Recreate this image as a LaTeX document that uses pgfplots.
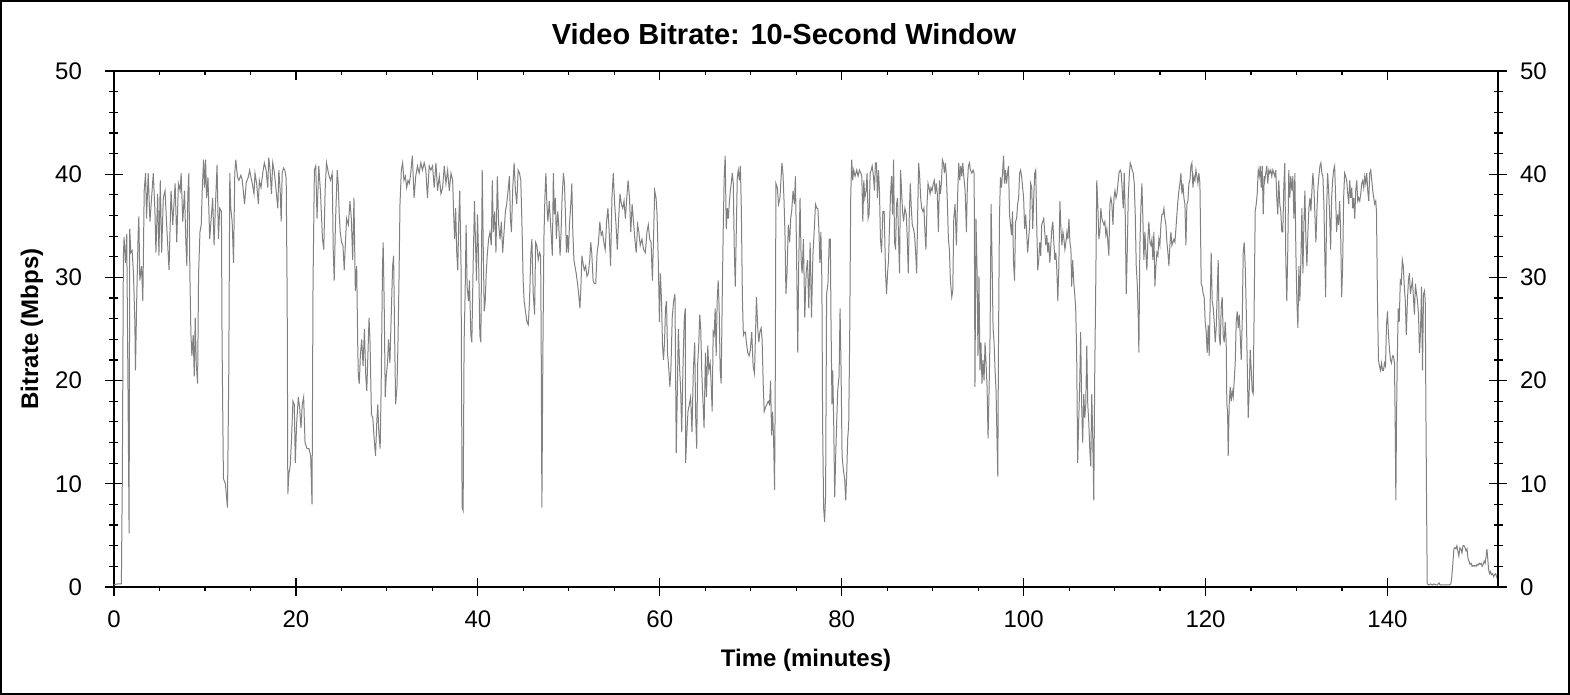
\documentclass[border=0pt]{standalone}
\usepackage{fontspec}
\setmainfont{Liberation Sans}
\usepackage{pgfplots}
\usepackage{pgfplotstable}
\pgfplotsset{compat=1.18}
\definecolor{linegray}{RGB}{128,128,128}
\pgfplotstableread{
t v
0.00 0.2
0.40 0.3
0.81 0.3
0.92 11.0
1.03 32.1
1.11 33.9
1.25 31.4
1.40 34.2
1.55 18.0
1.66 5.2
1.73 34.7
1.85 32.4
1.99 32.6
2.14 30.4
2.29 25.7
2.36 21.0
2.51 28.4
2.66 34.4
2.73 35.9
2.84 29.7
3.03 31.1
3.17 27.7
3.32 38.4
3.47 40.1
3.58 35.7
3.76 40.1
3.95 35.4
4.13 37.7
4.32 40.1
4.50 36.4
4.61 32.4
4.80 38.1
4.94 32.1
5.09 39.4
5.24 32.4
5.42 37.7
5.61 38.4
5.79 35.1
6.05 30.7
6.27 38.4
6.46 35.1
6.72 39.1
6.90 33.4
7.08 39.1
7.27 38.4
7.38 40.1
7.56 35.4
7.75 38.4
7.90 33.4
8.01 31.1
8.12 38.1
8.23 40.1
8.34 30.4
8.45 24.7
8.56 22.4
8.71 24.4
8.82 20.4
8.93 26.1
9.04 21.7
9.19 19.7
9.30 30.4
9.45 34.4
9.59 35.1
9.70 38.4
9.85 41.4
9.96 38.7
10.07 41.4
10.18 37.7
10.33 39.7
10.52 33.7
10.66 35.4
10.85 37.7
11.00 33.1
11.14 36.7
11.33 40.9
11.48 33.7
11.62 36.7
11.81 36.4
11.88 23.7
12.03 10.5
12.25 10.0
12.47 7.7
12.62 21.0
12.73 40.1
12.84 36.7
12.99 35.4
13.14 31.4
13.28 40.1
13.39 41.4
13.58 39.7
13.73 39.4
13.95 39.9
14.10 39.4
14.35 37.1
14.54 39.2
14.76 39.7
14.91 40.4
15.06 39.7
15.20 39.1
15.39 38.1
15.50 40.1
15.68 39.1
15.87 37.1
15.98 39.4
16.16 38.7
16.35 40.1
16.53 41.1
16.72 40.4
16.90 38.7
17.01 41.6
17.16 40.4
17.31 38.1
17.45 41.1
17.64 40.1
17.75 39.1
17.90 37.7
18.01 36.7
18.12 40.4
18.27 38.4
18.38 35.4
18.49 40.1
18.63 40.6
18.78 40.4
18.93 39.6
19.04 27.7
19.11 9.0
19.23 11.0
19.37 11.7
19.52 14.4
19.67 18.0
19.82 17.7
19.93 12.0
20.07 15.7
20.26 18.4
20.41 17.4
20.55 15.4
20.70 17.7
20.85 18.4
21.00 14.0
21.22 13.4
21.44 13.4
21.62 12.7
21.77 8.0
21.88 29.4
22.03 40.4
22.18 40.8
22.32 35.7
22.51 40.8
22.69 38.4
22.92 33.7
23.06 32.7
23.21 38.4
23.36 41.1
23.51 40.4
23.65 39.8
23.80 39.4
23.99 40.1
24.10 32.7
24.21 29.7
24.35 35.4
24.54 40.4
24.65 39.1
24.76 36.1
24.87 34.4
25.02 33.4
25.17 33.1
25.31 30.7
25.46 33.7
25.57 35.7
25.76 35.1
25.94 37.4
26.09 35.7
26.24 31.7
26.38 37.7
26.53 28.7
26.68 31.1
26.79 23.7
26.86 20.4
26.97 19.7
27.08 22.4
27.23 24.0
27.38 21.4
27.53 25.0
27.68 20.4
27.79 19.0
27.93 23.0
28.04 26.1
28.15 23.7
28.30 16.7
28.45 16.4
28.60 14.4
28.75 12.7
28.89 16.0
29.00 17.7
29.11 15.0
29.26 13.4
29.37 19.4
29.52 31.1
29.59 33.4
29.70 27.7
29.82 18.4
29.93 20.4
30.07 21.7
30.18 24.0
30.33 21.7
30.48 26.4
30.63 31.1
30.74 32.1
30.85 24.4
30.96 17.7
31.11 19.4
31.22 23.7
31.33 29.7
31.44 37.1
31.59 40.4
31.73 41.1
31.88 39.4
32.03 39.8
32.18 38.7
32.32 39.4
32.47 39.1
32.62 40.1
32.80 41.8
32.99 37.7
33.17 39.8
33.36 40.8
33.54 40.1
33.73 41.1
33.91 40.4
34.10 41.1
34.28 40.4
34.46 37.7
34.65 40.8
34.83 40.4
35.02 40.8
35.20 38.7
35.39 41.1
35.57 38.4
35.76 39.8
35.94 38.1
36.13 38.7
36.31 40.8
36.49 39.1
36.68 40.4
36.86 38.4
37.05 40.1
37.23 39.4
37.34 36.1
37.45 33.7
37.56 36.7
37.68 32.4
37.79 30.7
37.90 35.4
38.01 38.4
38.15 31.1
38.27 7.7
38.38 7.4
38.49 23.7
38.60 28.4
38.71 35.1
38.82 29.1
38.97 27.7
39.08 29.7
39.23 24.4
39.34 23.7
39.48 31.1
39.63 37.4
39.74 33.4
39.85 29.7
39.96 36.1
40.07 32.4
40.22 24.4
40.33 23.7
40.48 40.4
40.59 33.1
40.70 26.7
40.81 27.7
40.92 30.4
41.03 32.1
41.18 33.7
41.33 34.4
41.48 33.1
41.59 39.4
41.70 34.4
41.85 36.4
41.99 32.4
42.14 39.8
42.29 35.1
42.44 33.7
42.58 35.4
42.73 32.4
42.88 34.4
43.03 36.4
43.17 37.1
43.32 38.4
43.47 39.8
43.58 35.7
43.69 34.4
43.84 38.7
43.99 41.1
44.13 38.4
44.28 37.1
44.43 40.4
44.58 40.1
44.72 39.4
44.87 34.4
44.98 29.7
45.09 27.7
45.24 26.7
45.39 25.7
45.54 25.4
45.68 27.7
45.83 32.4
45.94 33.7
46.09 28.4
46.24 26.4
46.35 33.4
46.49 33.1
46.64 31.7
46.79 32.4
46.90 32.1
46.96 24.4
47.04 7.7
47.15 22.7
47.26 33.7
47.37 37.7
47.48 40.1
47.59 37.1
47.70 35.4
47.85 37.4
47.96 35.7
48.07 34.1
48.19 32.1
48.30 40.1
48.41 36.1
48.52 37.7
48.63 33.7
48.78 36.4
48.89 35.1
49.04 32.1
49.15 34.4
49.26 37.7
49.41 40.1
49.52 39.1
49.63 36.1
49.74 32.4
49.85 34.1
49.96 32.4
50.07 35.1
50.22 37.1
50.33 39.1
50.44 34.4
50.56 31.7
50.67 31.1
50.81 30.4
50.96 29.4
51.11 28.1
51.22 27.0
51.33 29.1
51.44 32.1
51.56 31.4
51.70 30.7
51.85 31.1
52.00 30.1
52.15 30.4
52.30 31.7
52.41 33.4
52.52 32.4
52.67 29.7
52.81 29.4
52.96 29.4
53.11 32.4
53.26 33.4
53.41 35.4
53.56 34.1
53.70 34.4
53.85 33.4
54.00 32.7
54.15 35.4
54.30 36.7
54.44 34.4
54.59 31.1
54.74 37.7
54.89 40.1
55.04 37.1
55.19 35.1
55.33 32.7
55.48 35.7
55.63 38.1
55.78 37.1
55.93 36.7
56.07 37.4
56.22 35.7
56.37 37.7
56.52 39.4
56.67 37.7
56.81 34.4
56.96 37.1
57.11 35.4
57.26 33.7
57.41 32.4
57.56 35.1
57.70 34.4
57.85 33.1
58.04 33.7
58.22 32.7
58.41 32.4
58.59 34.4
58.74 35.1
58.89 33.7
59.04 33.4
59.19 29.7
59.33 34.4
59.44 38.4
59.59 37.7
59.70 36.1
59.85 31.1
59.96 25.7
60.07 30.4
60.19 27.7
60.30 23.4
60.41 22.0
60.52 23.7
60.63 27.0
60.74 27.7
60.85 22.7
61.00 21.0
61.11 19.4
61.22 21.0
61.37 26.1
61.52 27.7
61.67 28.4
61.81 13.0
61.93 19.0
62.04 25.0
62.19 21.0
62.30 19.0
62.41 15.0
62.56 21.7
62.70 26.1
62.81 27.0
62.84 12.0
62.95 14.4
63.10 17.0
63.25 17.7
63.39 18.4
63.54 15.0
63.69 21.0
63.84 23.7
63.95 16.4
64.06 13.4
64.17 21.7
64.28 23.4
64.39 26.4
64.50 25.1
64.61 21.0
64.76 17.7
64.87 15.4
65.02 22.7
65.13 18.4
65.28 23.4
65.39 21.0
65.54 21.7
65.65 19.7
65.76 17.0
65.87 24.7
65.98 24.4
66.09 27.0
66.20 22.4
66.31 27.7
66.42 29.7
66.53 27.0
66.64 21.0
66.75 19.7
66.86 27.7
66.97 34.4
67.08 39.7
67.19 41.8
67.31 34.7
67.42 36.7
67.53 35.7
67.64 37.1
67.75 38.4
67.86 39.1
67.97 40.1
68.08 39.1
68.19 32.7
68.30 29.1
68.41 34.4
68.52 39.7
68.63 40.4
68.75 39.4
68.86 40.8
68.97 36.4
69.08 28.1
69.19 24.4
69.30 24.7
69.41 24.7
69.52 23.7
69.67 22.7
69.82 22.4
69.96 23.0
70.11 24.7
70.26 21.4
70.41 20.7
70.52 24.4
70.63 28.1
70.77 25.1
70.89 23.7
71.00 24.7
71.14 25.1
71.25 24.0
71.37 19.7
71.48 17.0
71.62 17.4
71.77 17.7
71.92 18.0
72.07 17.7
72.18 20.0
72.29 14.7
72.40 17.0
72.51 14.4
72.62 9.4
72.69 19.0
72.77 39.1
72.92 38.7
73.06 37.1
73.21 37.7
73.32 39.4
73.43 41.1
73.54 40.1
73.65 37.7
73.76 34.4
73.87 28.4
73.99 30.4
74.13 35.1
74.28 33.4
74.39 35.7
74.50 36.4
74.65 38.4
74.80 37.1
74.91 39.8
75.02 33.4
75.17 22.7
75.28 31.7
75.42 37.7
75.54 31.7
75.65 30.4
75.79 33.7
75.94 26.1
76.09 30.4
76.24 31.7
76.38 27.0
76.53 33.4
76.68 26.1
76.83 32.1
76.97 34.4
77.12 37.1
77.27 36.7
77.38 36.7
77.49 34.7
77.60 31.4
77.71 34.4
77.82 29.7
77.90 16.0
78.01 7.7
78.12 6.3
78.23 9.0
78.34 28.4
78.49 29.4
78.63 33.7
78.75 33.7
78.82 26.1
78.93 17.7
79.01 21.0
79.12 16.0
79.23 8.7
79.34 12.7
79.45 16.0
79.56 19.0
79.71 20.4
79.82 27.0
79.93 21.0
80.04 12.7
80.18 11.4
80.33 10.4
80.44 8.4
80.55 11.0
80.66 14.4
80.77 15.7
80.88 24.4
80.99 37.7
81.10 41.4
81.21 39.4
81.32 40.4
81.47 39.8
81.65 40.4
81.80 39.8
81.95 40.4
82.10 40.1
82.21 39.8
82.32 35.4
82.43 39.4
82.54 37.7
82.68 38.4
82.79 40.1
82.90 35.7
83.01 36.1
83.13 40.1
83.24 40.4
83.35 40.8
83.49 39.8
83.60 38.4
83.71 41.1
83.82 41.1
83.93 37.7
84.04 40.4
84.15 38.4
84.26 33.7
84.38 32.4
84.52 36.4
84.67 36.4
84.82 30.4
84.93 28.4
85.04 30.4
85.15 31.7
85.26 35.1
85.37 38.1
85.48 39.8
85.59 36.1
85.70 41.4
85.81 33.4
85.92 32.7
86.03 37.1
86.14 37.7
86.25 33.7
86.36 30.4
86.47 40.4
86.58 38.4
86.69 36.4
86.80 35.4
86.95 36.7
87.10 36.1
87.21 33.7
87.32 30.4
87.43 36.1
87.54 39.1
87.65 36.7
87.76 35.1
87.90 34.7
88.01 34.1
88.13 32.4
88.24 30.4
88.35 36.1
88.46 41.1
88.57 39.8
88.68 37.7
88.79 36.7
88.93 36.4
89.04 36.7
89.15 34.4
89.26 32.7
89.38 37.1
89.49 39.1
89.60 38.7
89.71 38.1
89.82 38.7
89.93 38.4
90.07 39.1
90.18 39.4
90.29 38.1
90.40 39.1
90.51 38.1
90.63 34.4
90.74 39.4
90.85 38.1
90.96 39.1
91.07 41.4
91.18 41.1
91.29 40.1
91.40 41.1
91.51 39.8
91.62 37.1
91.73 33.7
91.84 32.7
91.95 29.7
92.10 28.1
92.21 28.7
92.32 35.7
92.46 37.1
92.61 33.1
92.76 38.4
92.87 41.1
92.98 39.4
93.09 40.8
93.20 39.8
93.31 41.1
93.42 39.8
93.57 38.4
93.71 34.4
93.82 39.1
93.93 40.8
94.04 41.1
94.15 40.4
94.30 40.1
94.45 40.4
94.56 40.1
94.65 19.4
94.76 35.7
94.87 31.1
94.98 22.4
95.09 30.1
95.20 21.0
95.31 23.7
95.42 19.7
95.53 22.0
95.65 20.0
95.76 23.7
95.87 21.7
95.98 19.4
96.09 14.4
96.20 19.0
96.31 24.4
96.42 37.1
96.53 31.7
96.64 25.1
96.75 23.7
96.86 21.0
96.97 19.0
97.08 14.0
97.16 10.7
97.23 22.7
97.34 35.7
97.45 39.7
97.56 38.7
97.68 40.1
97.79 41.8
97.90 39.1
98.01 40.4
98.12 39.1
98.23 40.1
98.34 40.8
98.45 36.1
98.56 35.1
98.67 34.1
98.78 36.4
98.89 31.4
99.00 29.7
99.11 35.4
99.23 35.7
99.34 37.1
99.45 37.7
99.56 40.1
99.67 40.4
99.78 39.8
99.89 38.7
100.00 37.7
100.11 34.7
100.22 36.1
100.33 34.4
100.44 32.4
100.55 33.7
100.66 35.1
100.77 39.1
100.89 38.7
101.00 34.7
101.11 37.7
101.22 40.1
101.33 40.4
101.44 35.1
101.55 30.7
101.66 31.7
101.77 33.4
101.88 32.1
101.99 35.1
102.10 35.4
102.21 35.7
102.32 34.4
102.44 33.1
102.55 34.1
102.66 32.4
102.77 33.4
102.88 31.4
102.99 33.1
103.10 34.7
103.21 35.4
103.32 33.4
103.43 31.7
103.54 32.4
103.65 30.7
103.76 27.7
103.87 31.1
103.99 37.4
104.10 34.7
104.21 33.1
104.32 34.4
104.43 33.7
104.54 32.7
104.65 33.4
104.76 34.4
104.87 33.7
104.98 35.7
105.09 33.4
105.20 32.7
105.28 29.1
105.39 31.7
105.50 29.7
105.61 28.4
105.72 27.1
105.83 22.7
105.94 12.0
106.05 16.0
106.16 19.4
106.27 24.7
106.38 17.7
106.49 14.0
106.61 18.7
106.72 16.4
106.83 17.7
106.94 23.4
107.05 17.7
107.16 16.0
107.27 13.4
107.38 11.7
107.49 18.7
107.60 14.4
107.71 8.4
107.82 21.0
107.93 29.4
108.04 39.4
108.15 37.1
108.27 33.7
108.38 34.4
108.49 36.7
108.60 35.7
108.71 35.4
108.82 35.1
108.93 35.4
109.04 34.1
109.15 34.7
109.26 33.4
109.37 32.1
109.48 37.1
109.59 37.7
109.70 37.1
109.82 35.1
109.93 37.7
110.04 38.4
110.15 37.7
110.26 38.1
110.37 39.1
110.48 40.1
110.62 40.4
110.73 40.1
110.84 38.4
110.95 36.7
111.06 40.1
111.17 36.1
111.28 28.4
111.39 32.4
111.50 37.7
111.61 39.8
111.72 41.1
111.83 40.8
111.94 40.4
112.05 40.1
112.16 39.1
112.27 36.1
112.38 31.1
112.49 29.4
112.60 26.1
112.67 22.7
112.78 33.1
112.89 36.7
113.00 39.1
113.11 35.7
113.22 31.7
113.33 34.4
113.44 32.4
113.55 30.7
113.66 33.7
113.77 35.4
113.88 33.4
113.99 33.1
114.10 33.7
114.21 31.7
114.32 34.4
114.43 29.1
114.54 31.1
114.65 32.4
114.76 32.1
114.87 33.7
114.98 33.1
115.09 35.1
115.20 36.1
115.31 36.1
115.42 36.7
115.53 35.7
115.64 35.1
115.75 33.4
115.86 32.4
115.97 31.1
116.08 33.1
116.19 34.4
116.30 33.1
116.41 33.4
116.52 33.7
116.63 33.4
116.74 34.7
116.85 36.1
116.96 37.4
117.07 38.4
117.18 39.1
117.29 40.1
117.40 38.1
117.51 39.1
117.62 37.7
117.73 37.1
117.84 33.1
117.95 37.1
118.06 37.4
118.17 39.1
118.28 39.4
118.39 40.8
118.50 41.1
118.61 38.7
118.72 39.8
118.83 39.4
118.94 40.4
119.05 39.8
119.16 39.1
119.27 40.1
119.38 39.1
119.45 34.4
119.52 29.4
119.63 29.1
119.74 28.4
119.85 28.1
119.96 25.7
120.07 24.7
120.18 22.7
120.29 25.4
120.40 22.4
120.51 27.7
120.62 32.4
120.73 27.7
120.84 27.1
120.95 25.7
121.06 23.7
121.17 25.1
121.28 28.4
121.39 31.7
121.50 24.4
121.61 23.4
121.72 27.1
121.83 28.1
121.94 24.4
122.05 23.7
122.16 25.7
122.27 23.7
122.34 17.7
122.42 17.0
122.49 12.7
122.60 17.7
122.71 19.4
122.82 18.0
122.93 19.0
123.04 18.4
123.15 20.0
123.26 21.7
123.37 25.7
123.48 26.7
123.59 25.1
123.70 26.4
123.81 24.4
123.92 22.0
124.03 25.7
124.14 32.4
124.25 33.4
124.36 31.1
124.47 27.0
124.58 21.7
124.69 16.4
124.80 19.0
124.91 23.0
125.02 21.0
125.13 19.0
125.24 18.7
125.35 27.7
125.46 36.4
125.57 37.1
125.68 38.1
125.79 40.4
125.90 39.8
126.01 40.8
126.12 38.7
126.23 40.8
126.34 36.1
126.45 39.8
126.51 39.4
126.62 40.1
126.73 40.8
126.84 39.1
126.95 40.4
127.06 40.1
127.17 40.4
127.28 39.8
127.39 40.4
127.50 40.1
127.61 39.8
127.72 40.4
127.83 37.7
127.94 36.1
128.05 39.4
128.16 37.1
128.27 36.4
128.38 34.4
128.49 34.4
128.60 38.7
128.71 41.1
128.82 31.7
128.93 27.7
129.04 32.7
129.15 40.4
129.26 37.7
129.37 39.8
129.49 38.4
129.60 39.8
129.71 35.7
129.82 40.1
129.93 32.4
130.04 27.7
130.15 25.1
130.26 31.1
130.37 27.7
130.48 31.7
130.59 36.7
130.70 30.4
130.81 35.1
130.92 38.4
131.03 33.7
131.14 31.1
131.25 34.4
131.36 36.7
131.47 37.7
131.58 36.4
131.69 38.4
131.80 40.1
131.91 38.7
132.02 36.1
132.13 33.4
132.24 36.4
132.35 38.7
132.46 39.8
132.57 40.8
132.68 41.1
132.79 40.1
132.90 39.8
133.01 37.1
133.13 31.1
133.20 28.1
133.31 36.7
133.42 40.1
133.53 38.4
133.64 36.1
133.75 32.7
133.86 37.7
133.97 39.4
134.08 40.4
134.19 40.8
134.30 37.7
134.41 34.4
134.52 36.1
134.63 35.1
134.74 37.4
134.85 34.4
134.96 28.1
135.07 31.1
135.18 37.7
135.29 40.1
135.40 39.8
135.51 39.4
135.63 38.1
135.74 37.1
135.85 39.4
135.96 37.7
136.07 38.7
136.18 36.7
136.29 37.7
136.40 35.7
136.51 38.4
136.62 39.4
136.73 37.4
136.84 37.7
136.95 37.4
137.06 38.1
137.17 39.1
137.28 39.4
137.39 38.7
137.50 39.8
137.61 39.1
137.72 40.1
137.83 38.4
137.94 37.4
138.05 40.1
138.16 40.4
138.27 39.4
138.38 38.4
138.49 37.7
138.60 37.1
138.71 37.4
138.79 36.4
138.90 27.7
139.01 22.0
139.12 21.4
139.23 21.0
139.34 21.7
139.45 21.0
139.56 21.0
139.67 21.7
139.78 21.4
139.89 25.4
140.00 26.7
140.11 24.4
140.22 23.0
140.33 22.0
140.44 21.7
140.55 22.4
140.66 22.4
140.77 21.7
140.85 15.7
140.92 8.4
140.99 16.0
141.07 21.7
141.18 27.0
141.29 25.7
141.41 29.7
141.52 29.4
141.63 31.7
141.74 31.1
141.85 29.1
141.96 27.7
142.07 24.4
142.19 27.7
142.30 29.7
142.41 30.4
142.52 28.4
142.63 29.1
142.74 29.7
142.85 28.1
142.96 26.4
143.07 29.4
143.19 28.4
143.30 27.7
143.41 26.4
143.52 22.7
143.63 24.7
143.74 29.1
143.85 21.0
143.96 28.4
144.07 28.7
144.15 27.7
144.22 17.7
144.30 7.7
144.37 0.3
144.56 0.2
144.74 0.3
144.93 0.2
145.11 0.3
145.30 0.2
145.48 0.2
145.67 0.4
145.78 0.2
146.04 0.2
146.41 0.2
146.78 0.2
146.96 0.3
147.07 1.0
147.19 2.3
147.30 3.7
147.41 3.8
147.52 3.7
147.63 4.0
147.74 3.5
147.85 3.0
147.96 3.8
148.07 3.7
148.19 3.3
148.30 4.0
148.41 4.0
148.52 3.8
148.63 3.5
148.74 3.7
148.85 2.8
148.96 2.5
149.07 2.2
149.19 2.3
149.30 2.0
149.41 2.1
149.52 2.0
149.63 2.1
149.74 2.0
149.85 2.2
149.96 2.1
150.07 2.3
150.19 2.2
150.30 2.3
150.41 2.0
150.52 2.2
150.63 2.5
150.74 2.3
150.85 3.0
150.93 3.7
151.00 3.0
151.11 1.7
151.22 1.3
151.33 1.5
151.44 1.2
151.56 1.3
151.67 1.0
151.78 1.2
151.89 1.3
152.00 1.0
152.11 0.7
}\bitrate
\begin{document}
\begin{tikzpicture}
\pgfplotsset{
  common/.style={
    scale only axis, width=692pt, height=258pt,
    xmin=0, xmax=152.15, ymin=0, ymax=50,
    xtick={0,20,...,140}, ytick={0,10,...,50},
    every tick/.style={black, line width=0.6pt},
    axis line style={black, line width=0.6pt},
    tick label style={font=\fontsize{12}{14}\selectfont, /pgf/number format/assume math mode=true},
  }
}
% main axis: data, bottom major x ticks, left y ticks
\begin{axis}[common,
  tick align=center,
  xtick pos=bottom, ytick pos=left,
  minor y tick num=4,
  major tick length=9pt, minor tick length=4.5pt,
  xticklabel style={yshift=-4pt},
  yticklabel style={xshift=-8pt},
]
\addplot[linegray, line width=0.5pt] table[x=t, y=v] {\bitrate};
\coordinate (O) at (rel axis cs:0,0);
\coordinate (E) at (rel axis cs:1,1);
\coordinate (T) at (rel axis cs:0.5,1);
\coordinate (B) at (rel axis cs:0.5,0);
\coordinate (L) at (rel axis cs:0,0.5);
\end{axis}
% right y axis with labels
\begin{axis}[common,
  tick align=center,
  hide x axis, axis y line*=right,
  minor y tick num=4,
  major tick length=9pt, minor tick length=4.5pt,
  yticklabel style={xshift=3pt},
]
\end{axis}
% top x ticks pointing inside
\begin{axis}[common,
  tick align=inside,
  hide y axis, axis x line*=top,
  minor x tick num=3,
  xticklabels={},
  major tick length=4.5pt, minor tick length=2.2pt,
]
\end{axis}
% bottom minor x ticks pointing outside
\begin{axis}[common,
  tick align=outside,
  hide y axis, axis x line*=bottom,
  minor x tick num=3,
  xticklabels={},
  major tick length=0pt, minor tick length=2.2pt,
]
\end{axis}
\node[font=\fontsize{14.5}{17}\selectfont\bfseries] at ([xshift=-11pt, yshift=18.5pt]T) {Video Bitrate: 10-Second Window};
\node[font=\fontsize{12}{14}\selectfont\bfseries] at ([yshift=-36.5pt]B) {Time (minutes)};
\node[font=\fontsize{12}{14}\selectfont\bfseries, rotate=90] at ([xshift=-41pt]L) {Bitrate (Mbps)};
\draw[black, line width=1pt] ([shift={(-56.5pt,-53.5pt)}]O) rectangle ([shift={(35.5pt,35pt)}]E);
\end{tikzpicture}
\end{document}
